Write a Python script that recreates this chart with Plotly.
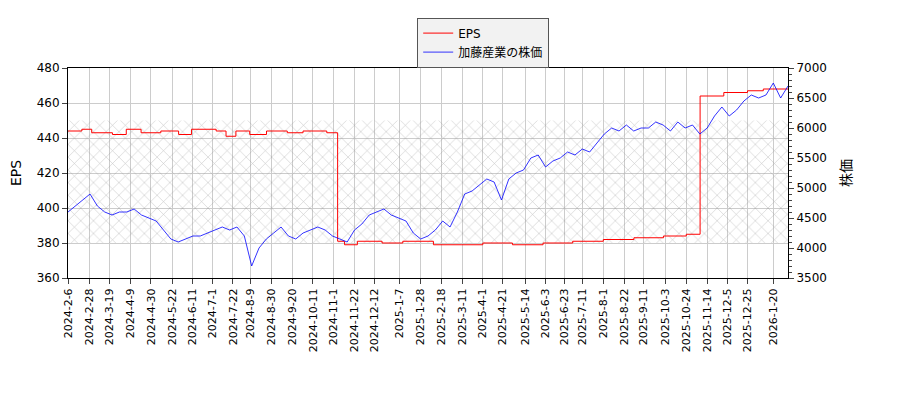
import pandas as pd
import plotly.graph_objects as go

# EPS steps (date, value)
eps_dates = ["2024-02-06", "2024-02-20", "2024-03-01", "2024-03-22", "2024-04-05", "2024-04-20",
             "2024-05-10", "2024-05-28", "2024-06-10", "2024-07-05", "2024-07-15", "2024-07-25",
             "2024-08-08", "2024-08-25", "2024-09-15", "2024-10-01", "2024-10-25", "2024-11-05",
             "2024-11-12", "2024-11-25", "2024-12-20", "2025-01-10", "2025-02-10", "2025-03-10",
             "2025-04-01", "2025-05-01", "2025-06-01", "2025-07-01", "2025-08-01", "2025-09-01",
             "2025-10-01", "2025-10-24", "2025-11-07", "2025-12-01", "2025-12-25", "2026-01-10",
             "2026-02-04"]
eps_vals = [444, 445, 443, 442, 445, 443, 444, 442, 445, 444, 441, 444, 442, 444, 443, 444, 443,
            381, 379, 381, 380, 381, 379, 379, 380, 379, 380, 381, 382, 383, 384, 385, 464, 466,
            467, 468, 468]

# roughly weekly stock price, 2024-02-06 .. 2026-02-04
price = [4600, 4700, 4800, 4900, 4700, 4600, 4550, 4600, 4600, 4650, 4550, 4500,
         4450, 4300, 4150, 4100, 4150, 4200, 4200, 4250, 4300, 4350, 4300, 4350, 4200,
         3700, 4000, 4150, 4250, 4350, 4200, 4150, 4250, 4300, 4350, 4300, 4200, 4150,
         4100, 4300, 4400, 4550, 4600, 4650, 4550, 4500, 4450, 4250, 4150, 4200,
         4300, 4450, 4350, 4600, 4900, 4950, 5050, 5150, 5100, 4800, 5150, 5250,
         5300, 5500, 5550, 5350, 5450, 5500, 5600, 5550, 5650, 5600, 5750, 5900,
         6000, 5950, 6050, 5950, 6000, 6000, 6100, 6050, 5950, 6100, 6000, 6050,
         5900, 6000, 6200, 6350, 6200, 6300, 6450, 6550, 6500, 6550, 6750, 6500, 6700]
price_dates = pd.date_range("2024-02-06", "2026-02-04", periods=len(price))

tick_labels = ["2024-2-6", "2024-2-28", "2024-3-19", "2024-4-9", "2024-4-30", "2024-5-22",
               "2024-6-11", "2024-7-1", "2024-7-22", "2024-8-9", "2024-8-30", "2024-9-20",
               "2024-10-11", "2024-11-1", "2024-11-22", "2024-12-12", "2025-1-7", "2025-1-28",
               "2025-2-18", "2025-3-11", "2025-4-1", "2025-4-21", "2025-5-14", "2025-6-3",
               "2025-6-23", "2025-7-11", "2025-8-1", "2025-8-22", "2025-9-11", "2025-10-3",
               "2025-10-24", "2025-11-14", "2025-12-5", "2025-12-25", "2026-1-20"]
tick_vals = pd.to_datetime(tick_labels)

band_lo, band_hi = 380, 450
x0, x1 = pd.Timestamp("2024-02-06"), pd.Timestamp("2026-02-04")

fig = go.Figure()
fig.add_trace(go.Scatter(x=[x0, x1, x1, x0, x0], y=[band_lo, band_lo, band_hi, band_hi, band_lo],
                         fill="toself", mode="none", fillcolor="rgba(0,0,0,0)",
                         fillpattern=dict(shape="x", fgcolor="#888", bgcolor="rgba(0,0,0,0)",
                                          size=9, solidity=0.12),
                         showlegend=False, hoverinfo="skip"))
fig.add_trace(go.Scatter(x=pd.to_datetime(eps_dates), y=eps_vals, name="EPS",
                         line=dict(color="red", width=1, shape="hv")))
fig.add_trace(go.Scatter(x=price_dates, y=price, name="加藤産業の株価", yaxis="y2",
                         line=dict(color="blue", width=0.8)))

fig.update_layout(
    width=900, height=400, margin=dict(l=60, r=120, t=60, b=130, autoexpand=False),
    plot_bgcolor="white", paper_bgcolor="white",
    font=dict(family="DejaVu Sans, Noto Sans CJK JP", size=12, color="black"),
    legend=dict(x=0.485, y=1.24, xanchor="left", yanchor="top", bgcolor="#f2f2f2",
                bordercolor="#555", borderwidth=1),
    xaxis=dict(range=[x0, x1], tickvals=tick_vals, ticktext=tick_labels, tickangle=-90,
               tickfont=dict(size=11), showgrid=True, gridcolor="#ccc", showline=True,
               linecolor="black", ticks="outside", mirror=True),
    yaxis=dict(title="EPS", range=[360, 480], dtick=20, showgrid=True, gridcolor="#ccc",
               showline=True, linecolor="black", ticks="outside"),
    yaxis2=dict(title="株価", overlaying="y", side="right", range=[3500, 7000], dtick=500,
                showgrid=False, showline=True, linecolor="black", ticks="outside",
                minor=dict(ticks="outside", dtick=100, ticklen=3)),
)
fig.write_html("out.html")
